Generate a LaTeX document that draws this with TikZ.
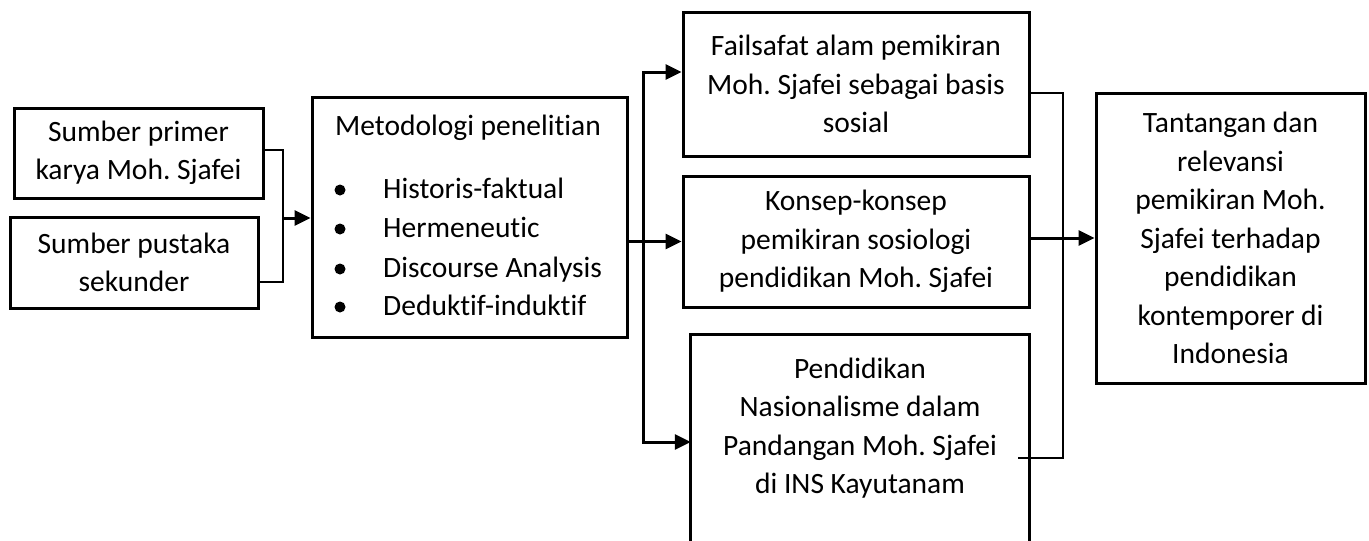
\documentclass[tikz,border=0pt]{standalone}
\usepackage{fontspec}
\setmainfont{Carlito}[Ligatures=NoCommon]
\usetikzlibrary{arrows.meta}
\begin{document}
\frenchspacing
\begin{tikzpicture}[x=1pt,y=-1pt,
  box/.style={draw,line width=3pt,rectangle,inner sep=0pt,align=center,
    font=\fontsize{29.5}{38.5}\selectfont},
  txt/.style={inner sep=0pt,font=\fontsize{29.5}{38.5}\selectfont},
  link/.style={line width=1.2pt},
  tip/.tip={Triangle[length=16pt,width=15pt]},
  arr/.style={line width=3pt,-tip},
  dot/.style={circle,fill,inner sep=0pt,minimum size=11pt},
]
\useasboundingbox[fill=white] (0,0) rectangle (1369,541);

% sources
\node[box,minimum width=249,minimum height=90] (A) at (138.5,153)
  {Sumber primer\\karya Moh. Sjafei};
\node[box,minimum width=248,minimum height=91] (B) at (134,262.5)
  {Sumber pustaka\\sekunder};

% methodology
\node[box,minimum width=315,minimum height=240] (M) at (469.5,217) {};
\node[txt,anchor=base west] (mh) at (335,135) {Metodologi penelitian};
\node[txt,anchor=base west] (m1) at (383,198) {Historis-faktual};
\node[txt,anchor=base west] (m2) at (383,237) {Hermeneutic};
\node[txt,anchor=base west] (m3) at (383,277) {Discourse Analysis};
\node[txt,anchor=base west] (m4) at (383,315) {Deduktif-induktif};
\node[dot] (b1) at (340,190) {};
\node[dot] (b2) at (340,229) {};
\node[dot] (b3) at (340,269) {};
\node[dot] (b4) at (340,307) {};

% findings
\node[box,minimum width=346,minimum height=144] (F1) at (856,84)
  {Failsafat alam pemikiran\\Moh. Sjafei sebagai basis\\sosial};
\node[box,minimum width=346,minimum height=131] (F2) at (856,241.5)
  {Konsep-konsep\\pemikiran sosiologi\\pendidikan Moh. Sjafei};
\node[minimum width=338,minimum height=225,inner sep=0pt] (F3) at (860,447.5) {};
\draw[line width=3pt] (F3.south west) -- (F3.north west) -- (F3.north east) -- (F3.south east);
\node[txt,align=center] (F3t) at (860,428)
  {Pendidikan\\Nasionalisme dalam\\Pandangan Moh. Sjafei\\di INS Kayutanam};

% conclusion
\node[box,minimum width=269,minimum height=290] (T) at (1230.5,238)
  {Tantangan dan\\relevansi\\pemikiran Moh.\\Sjafei terhadap\\pendidikan\\kontemporer di\\Indonesia};

% junctions
\coordinate (ja) at (283,150);
\coordinate (jb) at (283,282);
\coordinate (jm) at (283,218);
\coordinate (bus1) at (643,72);
\coordinate (bus3) at (643,442);
\coordinate (jr1) at (1063,93);
\coordinate (jr2) at (1063,458);
\coordinate (jend) at (1018,458);

% connectors
\draw[link] (A.east |- ja) -- (ja) -- (jb) -- (B.east |- jb);
\draw[arr] (jm) -- (M.west |- jm);
\draw[arr] (M.east |- F2.west) -- (F2.west);
\draw[line width=3pt,tip-tip]
  (F1.west |- bus1) -- (bus1) -- (bus3) -- (F3.west |- bus3);
\draw[link] (F1.east |- jr1) -- (jr1) -- (jr2) -- (jend);
\draw[arr] (F2.east |- T.west) -- (T.west);
\end{tikzpicture}
\end{document}
